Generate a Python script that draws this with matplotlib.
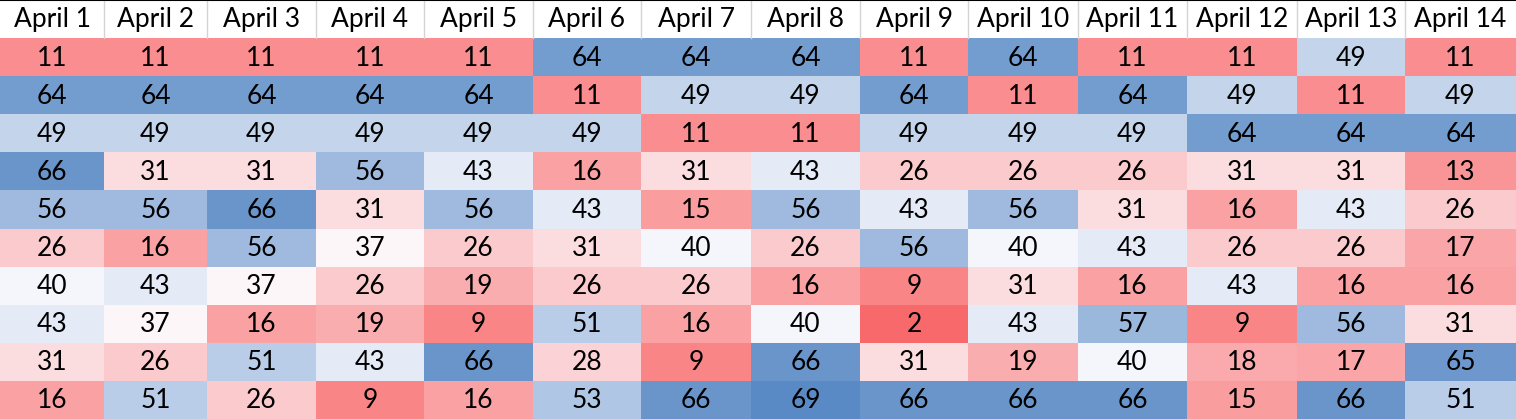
import numpy as np
import matplotlib.pyplot as plt
from matplotlib.colors import LinearSegmentedColormap, TwoSlopeNorm

days = ["April 1", "April 2", "April 3", "April 4", "April 5", "April 6", "April 7",
        "April 8", "April 9", "April 10", "April 11", "April 12", "April 13", "April 14"]

row1 = [11, 11, 11, 11, 11, 64, 64, 64, 11, 64, 11, 11, 49, 11]
row2 = [64, 64, 64, 64, 64, 11, 49, 49, 64, 11, 64, 49, 11, 49]
row3 = [49, 49, 49, 49, 49, 49, 11, 11, 49, 49, 49, 64, 64, 64]
row4 = [66, 31, 31, 56, 43, 16, 31, 43, 26, 26, 26, 31, 31, 13]
row5 = [56, 56, 66, 31, 56, 43, 15, 56, 43, 56, 31, 16, 43, 26]
row6 = [26, 16, 56, 37, 26, 31, 40, 26, 56, 40, 43, 26, 26, 17]
row7 = [40, 43, 37, 26, 19, 26, 26, 16, 9, 31, 16, 43, 16, 16]
row8 = [43, 37, 16, 19, 9, 51, 16, 40, 2, 43, 57, 9, 56, 31]
row9 = [31, 26, 51, 43, 66, 28, 9, 66, 31, 19, 40, 18, 17, 65]
row10 = [16, 51, 26, 9, 16, 53, 66, 69, 66, 66, 66, 15, 66, 51]

data = np.array([row1, row2, row3, row4, row5, row6, row7, row8, row9, row10])

# excel style 3 colour scale: min red, median white, max blue
cmap = LinearSegmentedColormap.from_list("excel", ["#F8696B", "#FCFCFF", "#5A8AC6"])
norm = TwoSlopeNorm(vmin=data.min(), vcenter=np.percentile(data, 50), vmax=data.max())

# layout in pixels (column widths like the sheet)
col_w = [104, 103, 109, 108, 109, 108, 110, 109, 108, 110, 109, 110, 108, 111]
head_h = 38
row_h = (419 - head_h) / data.shape[0]
xedges = np.concatenate([[0], np.cumsum(col_w)])
yedges = head_h + row_h * np.arange(data.shape[0] + 1)

fig = plt.figure(figsize=(15.16, 4.19), dpi=100)
ax = fig.add_axes([0, 0, 1, 1])
ax.pcolormesh(xedges, yedges, data, cmap=cmap, norm=norm)

font = dict(family=["Lato", "DejaVu Sans"], fontsize=19, color="black")
xc = (xedges[:-1] + xedges[1:]) / 2
for j, d in enumerate(days):
    ax.text(xc[j], head_h / 2 + 1, d, ha="center", va="center", **font)
    if j > 0:
        ax.plot([xedges[j], xedges[j]], [0, head_h], color="#D4D4D4", lw=1)
for i in range(data.shape[0]):
    yc = (yedges[i] + yedges[i + 1]) / 2
    for j in range(data.shape[1]):
        ax.text(xc[j], yc + 1, str(data[i, j]), ha="center", va="center", **font)

ax.plot([0, xedges[-1]], [0.5, 0.5], color="black", lw=1.5)
ax.set_xlim(0, 1516)
ax.set_ylim(419, 0)
ax.axis("off")
fig.savefig("out.png", dpi=100)
